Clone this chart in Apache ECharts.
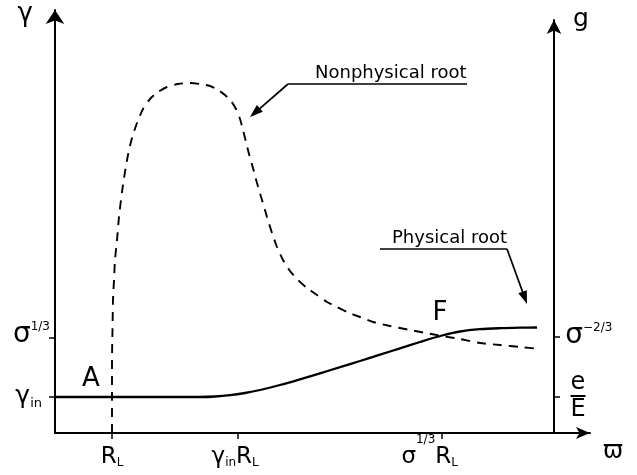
<!DOCTYPE html>
<html>
<head>
<meta charset="utf-8">
<script src="https://cdn.jsdelivr.net/npm/echarts@6/dist/echarts.min.js"></script>
<style>html,body{margin:0;padding:0;background:#fff}#c{width:637px;height:475px}</style>
</head>
<body>
<div id="c"></div>
<script>
// ---- data (arbitrary units; the axes carry no numeric scale) ----
var physX = [0, 0.9, 1.9, 2.9, 3.2, 3.5, 3.8, 4.1, 4.5, 4.9, 5.3, 5.7, 6.1, 6.5, 6.9, 7.3, 7.74, 8.1, 8.5, 8.9, 9.3, 9.64];
var physY = [0.9, 0.9, 0.9, 0.9, 0.9125, 0.945, 1.0, 1.075, 1.2, 1.3425, 1.4925, 1.645, 1.8, 1.9575, 2.1175, 2.275, 2.4375, 2.5375, 2.595, 2.62, 2.6325, 2.6375];

var nonX = [1.14, 1.14, 1.14, 1.15, 1.16, 1.18, 1.2, 1.24, 1.28, 1.34, 1.4, 1.46, 1.54, 1.64, 1.76, 1.9, 2.06, 2.24, 2.46, 2.7, 2.9, 3.1, 3.26, 3.4, 3.52, 3.62, 3.7, 3.76, 3.82, 3.88, 3.96, 4.04, 4.14, 4.24, 4.34, 4.44, 4.56, 4.7, 4.86, 5.04, 5.24, 5.44, 5.64, 5.84, 6.1, 6.36, 6.7, 7.1, 7.42, 7.74, 8.1, 8.5, 8.9, 9.3, 9.7];
var nonY = [0, 0.825, 1.825, 2.575, 3.325, 3.825, 4.325, 4.825, 5.4, 6.025, 6.525, 6.95, 7.375, 7.75, 8.1, 8.35, 8.525, 8.65, 8.725, 8.75, 8.725, 8.675, 8.575, 8.45, 8.3, 8.1, 7.85, 7.575, 7.275, 6.975, 6.625, 6.25, 5.825, 5.4, 5.0, 4.65, 4.325, 4.05, 3.825, 3.625, 3.45, 3.275, 3.15, 3.025, 2.9, 2.775, 2.675, 2.575, 2.5, 2.425, 2.35, 2.25, 2.2, 2.15, 2.1];

var xTickValues = [1.14, 3.66, 7.74];
var xTickLabels = ['{st| }{b|R}{sub|L}', '{st| }{b|γ}{sub|in}{b|R}{sub|L}{sp1|}', '{st| }{b|σ}{sup|1/3}{b|R}{sub|L}{sp2|}'];
var leftTickValues = [0.9, 2.375];
var leftTickLabels = ['{st2| }{g|γ}{sub|in}{sp|}', '{st1| }{s|σ}{sup|1/3}'];
var rightTickValues = [0.9, 2.4];
var rightTickLabels = ['{fe|e}\n{bar| }\n{fE|E}', '{st1| }{s|σ}{sup|−2/3}'];

var FONT = 'DejaVu Sans';

function pick(values, labels) {
  return function (v) {
    for (var i = 0; i < values.length; i++) if (Math.abs(values[i] - v) < 1e-6) return labels[i];
    return '';
  };
}
function pairs(xs, ys) { return xs.map(function (x, i) { return [x, ys[i]]; }); }
function t(size, extra) {
  var o = { fontFamily: FONT, fontSize: size, color: '#000' };
  for (var k in extra) o[k] = extra[k];
  return o;
}
function arrowEls(x1, y1, x2, y2, L, W) {
  var dx = x2 - x1, dy = y2 - y1, len = Math.sqrt(dx * dx + dy * dy);
  var ux = dx / len, uy = dy / len, px = -uy, py = ux;
  var bx = x2 - ux * L, by = y2 - uy * L;
  return [
    { type: 'line', shape: { x1: x1, y1: y1, x2: bx + ux * 2, y2: by + uy * 2 }, style: { stroke: '#000', lineWidth: 1.7 } },
    { type: 'polygon', shape: { points: [[x2, y2], [bx + px * W / 2, by + py * W / 2], [bx - px * W / 2, by - py * W / 2]] }, style: { fill: '#000' } }
  ];
}

var chart = echarts.init(document.getElementById('c'), null, { renderer: 'canvas' });
var axisLineStyle = { color: '#000', width: 2 };
var tickStyle = { color: '#000', width: 1.5 };

var option = {
  backgroundColor: '#fff',
  animation: false,
  grid: [
    { left: 55, right: 47, top: 10, bottom: 42 },
    { left: 55, right: 83, top: 20, bottom: 42 }
  ],
  xAxis: [
    {
      type: 'value', gridIndex: 0, min: 0, max: 10.7,
      name: '\nϖ', nameLocation: 'end', nameGap: 13,
      nameTextStyle: { fontFamily: FONT, fontSize: 24, color: '#000', lineHeight: 38, verticalAlign: 'middle', align: 'left' },
      axisLine: { show: true, onZero: false, symbol: ['none', 'arrow'], symbolSize: [9, 14], lineStyle: axisLineStyle },
      axisTick: { show: true, length: 6, lineStyle: tickStyle, customValues: xTickValues },
      axisLabel: {
        show: true, margin: 1, customValues: xTickValues, formatter: pick(xTickValues, xTickLabels),
        rich: {
          st: t(1, { lineHeight: 35 }),
          b: t(23, { lineHeight: 24, verticalAlign: 'bottom' }),
          sub: t(12, { lineHeight: 11, verticalAlign: 'bottom' }),
          sup: t(12, { lineHeight: 13, verticalAlign: 'top' }),
          sp1: { width: 6 },
          sp2: { width: 25 }
        }
      },
      splitLine: { show: false }
    },
    { type: 'value', gridIndex: 1, min: 0, max: 1, show: false }
  ],
  yAxis: [
    {
      type: 'value', gridIndex: 0, min: 0, max: 10.575, position: 'left',
      name: 'γ', nameLocation: 'end', nameGap: -4,
      nameTextStyle: { fontFamily: FONT, fontSize: 26, color: '#000', align: 'right', verticalAlign: 'middle', padding: [0, 22, 0, 0] },
      axisLine: { show: true, onZero: false, symbol: ['none', 'arrow'], symbolSize: [14, 14], lineStyle: axisLineStyle },
      axisTick: { show: true, length: 6, lineStyle: tickStyle, customValues: leftTickValues },
      axisLabel: {
        show: true, margin: 5, customValues: leftTickValues, formatter: pick(leftTickValues, leftTickLabels),
        rich: {
          st1: t(1, { lineHeight: 34 }),
          st2: t(1, { lineHeight: 26 }),
          s: t(28, { lineHeight: 30, verticalAlign: 'top' }),
          sup: t(12, { lineHeight: 13, verticalAlign: 'top' }),
          g: t(25, { lineHeight: 15, verticalAlign: 'top' }),
          sub: t(13, { lineHeight: 19, verticalAlign: 'bottom' }),
          sp: { width: 8 }
        }
      },
      splitLine: { show: false }
    },
    {
      type: 'value', gridIndex: 1, min: 0, max: 10.325, position: 'right',
      name: 'g', nameLocation: 'end', nameGap: 1,
      nameTextStyle: { fontFamily: FONT, fontSize: 25, color: '#000', align: 'left', verticalAlign: 'middle', padding: [0, 0, 0, 19] },
      axisLine: { show: true, onZero: false, symbol: ['none', 'arrow'], symbolSize: [11, 14], lineStyle: axisLineStyle },
      axisTick: { show: true, length: 6, lineStyle: tickStyle, customValues: rightTickValues },
      axisLabel: {
        show: true, margin: 11, customValues: rightTickValues, formatter: pick(rightTickValues, rightTickLabels),
        rich: {
          st1: t(1, { lineHeight: 30 }),
          s: t(28, { lineHeight: 30, verticalAlign: 'top' }),
          sup: t(12, { lineHeight: 13, verticalAlign: 'top' }),
          fe: t(24, { lineHeight: 22, align: 'center', width: 26 }),
          bar: t(1, { lineHeight: 4, height: 2, width: 15, align: 'center', backgroundColor: '#000' }),
          fE: t(24, { lineHeight: 24, align: 'center', width: 26 })
        }
      },
      splitLine: { show: false }
    }
  ],
  series: [
    {
      name: 'Physical root', type: 'line', xAxisIndex: 0, yAxisIndex: 0,
      data: pairs(physX, physY), smooth: 0.3, showSymbol: false, symbol: 'none',
      lineStyle: { color: '#000', width: 2.3, type: 'solid' }, z: 3
    },
    {
      name: 'Nonphysical root', type: 'line', xAxisIndex: 0, yAxisIndex: 0,
      data: pairs(nonX, nonY), smooth: 0.25, showSymbol: false, symbol: 'none',
      lineStyle: { color: '#000', width: 1.9, type: [9, 7] }, z: 3
    }
  ],
  graphic: [].concat(
    [
      { type: 'text', style: { text: 'Nonphysical root', x: 315, y: 82, font: '18px "' + FONT + '"', fill: '#000', textAlign: 'left', textVerticalAlign: 'bottom' } },
      { type: 'line', shape: { x1: 288, y1: 84, x2: 467, y2: 84 }, style: { stroke: '#000', lineWidth: 1.4 } },
      { type: 'text', style: { text: 'Physical root', x: 392, y: 247, font: '18px "' + FONT + '"', fill: '#000', textAlign: 'left', textVerticalAlign: 'bottom' } },
      { type: 'line', shape: { x1: 380, y1: 249, x2: 507, y2: 249 }, style: { stroke: '#000', lineWidth: 1.4 } },
      { type: 'text', style: { text: 'A', x: 91, y: 379, font: '26px "' + FONT + '"', fill: '#000', textAlign: 'center', textVerticalAlign: 'middle' } },
      { type: 'text', style: { text: 'F', x: 440, y: 313, font: '26px "' + FONT + '"', fill: '#000', textAlign: 'center', textVerticalAlign: 'middle' } }
    ],
    arrowEls(288, 84, 250, 117, 13, 9),
    arrowEls(507, 249, 527, 304, 13, 9)
  )
};

chart.setOption(option);
</script>
</body>
</html>
